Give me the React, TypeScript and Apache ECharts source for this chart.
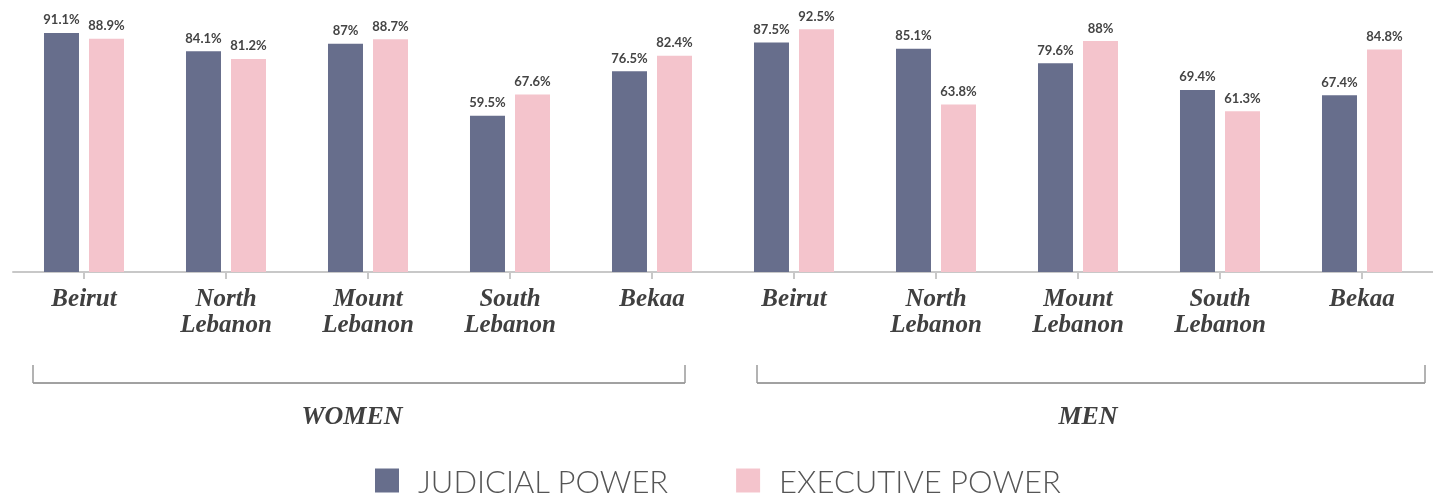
import React, { useEffect, useRef } from "react";
import * as echarts from "echarts";

const regions = ["Beirut", "North Lebanon", "Mount Lebanon", "South Lebanon", "Bekaa"];
const groups = ["WOMEN", "MEN"];
const categories = [...regions, ...regions];
const judicialWomen = [91.1, 84.1, 87, 59.5, 76.5];
const judicialMen = [87.5, 85.1, 79.6, 69.4, 67.4];
const executiveWomen = [88.9, 81.2, 88.7, 67.6, 82.4];
const executiveMen = [92.5, 63.8, 88, 61.3, 84.8];
const seriesNames = ["JUDICIAL POWER", "EXECUTIVE POWER"];

const judicial = [...judicialWomen, ...judicialMen];
const executive = [...executiveWomen, ...executiveMen];

export default function App() {
  const ref = useRef<HTMLDivElement>(null);
  useEffect(() => {
    if (!ref.current) return;
    const chart = echarts.init(ref.current, undefined, { renderer: "svg" });
    const serif = "Liberation Serif";
    const bracketColor = "#444";
    const sideColor = "#9a9a9a";
    const bracket = (x1: number, x2: number) => [
      { type: "line", shape: { x1, y1: 383, x2, y2: 383 }, style: { stroke: bracketColor, lineWidth: 1 } },
      { type: "line", shape: { x1, y1: 365, x2: x1, y2: 383 }, style: { stroke: sideColor, lineWidth: 1.5 } },
      { type: "line", shape: { x1: x2, y1: 365, x2, y2: 383 }, style: { stroke: sideColor, lineWidth: 1.5 } },
    ];
    const groupText = (x: number, text: string) => ({
      type: "text",
      x,
      y: 415,
      style: {
        text,
        fontFamily: serif,
        fontStyle: "italic",
        fontWeight: "bold",
        fontSize: 26,
        fill: "#404040",
        align: "center",
        verticalAlign: "middle",
      },
    });
    const labelStyle = {
      show: true,
      position: "top",
      distance: 7,
      formatter: "{c}%",
      fontFamily: "Lato",
      fontWeight: "bold",
      fontSize: 13,
      color: "#444",
    };
    chart.setOption({
      animation: false,
      grid: { left: 13, top: 9.6, width: 1422, height: 262.4, containLabel: false },
      xAxis: {
        type: "category",
        data: categories,
        axisLine: { lineStyle: { color: "#c8c8c8", width: 2 } },
        axisTick: { show: true, alignWithLabel: true, interval: 0, length: 7, lineStyle: { color: "#c8c8c8", width: 2 } },
        axisLabel: {
          interval: 0,
          margin: 12,
          formatter: (v: string) => v.replace(" ", "\n"),
          fontFamily: serif,
          fontStyle: "italic",
          fontWeight: "bold",
          fontSize: 25,
          lineHeight: 26,
          color: "#404040",
        },
      },
      yAxis: { type: "value", min: 0, max: 100, show: false, splitLine: { show: false } },
      legend: {
        data: seriesNames,
        icon: "rect",
        itemWidth: 24,
        itemHeight: 24,
        itemGap: 67,
        left: 375,
        top: 465,
        padding: 0,
        textStyle: { fontFamily: "Lato", fontWeight: 300, fontSize: 31, lineHeight: 30, color: "#555", padding: [0, 0, 0, 14] },
      },
      series: [
        {
          name: seriesNames[0],
          type: "bar",
          data: judicial,
          barWidth: 35,
          barGap: "28.6%",
          itemStyle: { color: "#676e8c" },
          label: labelStyle,
        },
        {
          name: seriesNames[1],
          type: "bar",
          data: executive,
          barWidth: 35,
          itemStyle: { color: "#f4c4cc" },
          label: labelStyle,
        },
      ],
      graphic: [
        ...bracket(33, 685),
        ...bracket(757, 1425),
        groupText(352, groups[0]),
        groupText(1088, groups[1]),
      ],
    });
    return () => chart.dispose();
  }, []);
  return <div ref={ref} style={{ position: "fixed", left: 0, top: 0, width: 1433, height: 499 }} />;
}
